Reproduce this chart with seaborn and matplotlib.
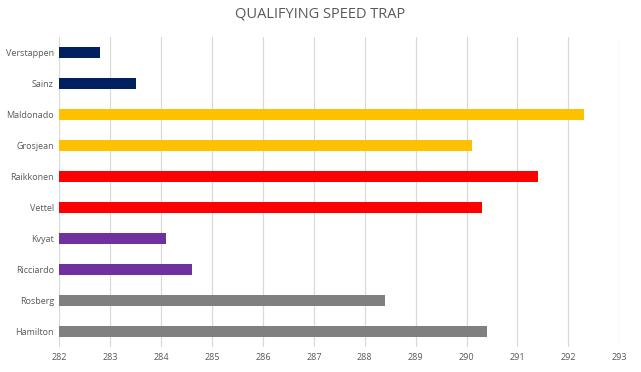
import matplotlib
matplotlib.use("Agg")
import matplotlib.pyplot as plt
import seaborn as sns
import pandas as pd

drivers = ["Verstappen", "Sainz", "Maldonado", "Grosjean", "Raikkonen",
           "Vettel", "Kvyat", "Ricciardo", "Rosberg", "Hamilton"]
speeds = [282.8, 283.5, 292.3, 290.1, 291.4, 290.3, 284.1, 284.6, 288.4, 290.4]
colors = ["#002060", "#002060", "#FFC000", "#FFC000", "#FF0000",
          "#FF0000", "#7030A0", "#7030A0", "#808080", "#808080"]
x_ticks = list(range(282, 294))

sns.set_theme(style="white")
plt.rcParams['font.family'] = ['Open Sans', 'DejaVu Sans']

base = x_ticks[0]
df = pd.DataFrame({"driver": drivers, "speed": speeds})
df["offset"] = df["speed"] - base

fig = plt.figure(figsize=(6.41, 3.72), dpi=100)
ax = fig.add_axes([0.0928, 0.0672, 0.8733, 0.8333])

sns.barplot(data=df, y="driver", x="offset", hue="driver", palette=colors,
            order=drivers, hue_order=drivers, legend=False, orient="h",
            width=0.38, dodge=False, ax=ax, saturation=1, linewidth=0)
for p in ax.patches:
    p.set_x(p.get_x() + base)

ax.set_xlim(282, 293)
ax.set_ylim(9.5, -0.5)
ax.set_xticks(x_ticks)
ax.set_xticklabels([str(t) for t in x_ticks])
ax.grid(axis="x", color="#D9D9D9", linewidth=0.9)
ax.set_axisbelow(True)
for s in ax.spines.values():
    s.set_visible(False)
ax.tick_params(axis="both", length=0, labelsize=6.5, colors="#595959", pad=4)
ax.set_xlabel("")
ax.set_ylabel("")
fig.text(0.5, 0.962, "QUALIFYING SPEED TRAP", ha="center", va="center",
         fontsize=10.5, color="#595959")

fig.savefig("out.png", dpi=100)
